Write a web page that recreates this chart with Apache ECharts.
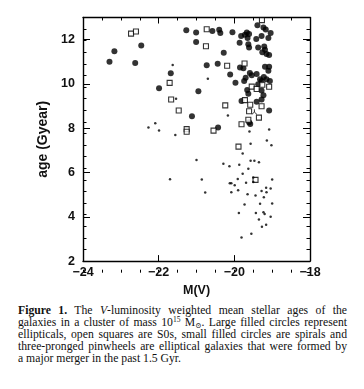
<!DOCTYPE html>
<html>
<head>
<meta charset="utf-8">
<script src="https://cdn.jsdelivr.net/npm/echarts@6/dist/echarts.min.js"></script>
<style>
  html, body { margin: 0; padding: 0; background: #fff; }
  #wrap { position: relative; width: 364px; height: 389px; overflow: hidden; }
  #chart { position: absolute; left: 0; top: 0; width: 364px; height: 302px; }
  #caption { position: absolute; left: 18px; top: 305px; width: 329px;
    font-family: "Liberation Serif", "DejaVu Serif", serif; font-size: 11.7px; line-height: 12px; color: #111; }
  #caption .l { text-align: justify; text-align-last: justify; white-space: nowrap; }
  #caption .last { text-align: left; text-align-last: left; }
  sup, sub { font-size: 7.5px; line-height: 0; vertical-align: baseline; position: relative; }
  sup { top: -0.55em; }
  sub { top: 0.3em; }
</style>
</head>
<body>
<div id="wrap">
  <div id="chart"></div>
  <div id="caption">
    <div class="l"><b>Figure 1.</b> The <i>V</i>-luminosity weighted mean stellar ages of the</div>
    <div class="l">galaxies in a cluster of mass 10<sup>15</sup> M<sub>&#8857;</sub>. Large filled circles represent</div>
    <div class="l">ellipticals, open squares are S0s, small filled circles are spirals and</div>
    <div class="l">three-pronged pinwheels are elliptical galaxies that were formed by</div>
    <div class="l last">a major merger in the past 1.5 Gyr.</div>
  </div>
</div>
<script>
// ---- data (M(V), age in Gyr) ----
const ellipticals = [
  [-23.30, 11.00], [-23.17, 11.48], [-22.46, 11.74], [-22.62, 10.95], [-21.99, 9.81],
  [-21.68, 10.48], [-21.12, 8.54], [-21.27, 12.42], [-21.01, 12.32], [-21.01, 11.89],
  [-20.95, 9.67], [-20.58, 12.39], [-20.40, 12.45], [-20.37, 12.30], [-20.43, 8.03],
  [-20.28, 11.41], [-20.44, 10.91], [-20.73, 10.84], [-20.05, 12.33], [-20.11, 10.43],
  [-19.97, 10.05], [-19.82, 12.17], [-19.72, 12.22], [-19.67, 12.32], [-19.61, 12.26],
  [-19.65, 12.07], [-19.86, 11.86], [-19.63, 11.79], [-19.61, 11.64], [-19.42, 12.03],
  [-19.39, 12.65], [-19.23, 12.55], [-19.17, 12.46], [-19.28, 12.17], [-19.10, 12.07],
  [-19.04, 12.30], [-19.37, 11.64], [-19.21, 11.69], [-19.19, 11.54], [-19.26, 11.43],
  [-19.15, 11.35], [-19.08, 11.31], [-19.85, 10.74], [-19.76, 10.71], [-19.70, 10.28],
  [-19.74, 10.13], [-19.59, 10.49], [-19.54, 10.39], [-19.41, 10.45], [-19.19, 10.78],
  [-19.08, 10.78], [-19.10, 10.59], [-19.32, 10.21], [-19.28, 10.13], [-19.22, 10.31],
  [-19.15, 10.21], [-19.06, 10.13], [-19.37, 9.99], [-19.66, 9.73], [-19.63, 9.56],
  [-19.28, 9.70], [-19.23, 9.49], [-19.28, 9.30], [-19.81, 9.23], [-19.41, 9.20],
  [-19.08, 8.80], [-19.61, 8.27], [-19.58, 8.19]
];
const s0s = [
  [-22.73, 12.27], [-22.60, 12.37], [-21.71, 10.05], [-21.67, 9.30], [-21.47, 8.80],
  [-21.26, 7.96], [-21.26, 7.84], [-20.73, 12.47], [-20.75, 11.70], [-20.55, 7.89],
  [-20.24, 9.03], [-20.19, 10.82], [-19.89, 7.17], [-19.81, 8.18], [-19.27, 12.88],
  [-19.73, 10.92], [-19.54, 9.88], [-19.41, 9.77], [-19.26, 9.96], [-19.08, 9.87],
  [-19.72, 9.27], [-19.58, 9.06], [-19.28, 8.99], [-19.61, 8.77], [-19.35, 8.48],
  [-19.63, 8.38], [-19.44, 5.67]
];
const spirals = [
  [-21.63, 10.85], [-20.70, 10.23], [-21.54, 9.33], [-20.17, 8.58], [-22.27, 8.03],
  [-22.09, 8.23], [-21.99, 7.90], [-21.56, 7.69], [-21.70, 5.70], [-21.00, 6.57],
  [-20.86, 5.68], [-20.77, 5.10], [-20.29, 6.40], [-20.13, 6.28], [-20.12, 5.52],
  [-20.08, 5.52], [-20.08, 5.11], [-19.99, 5.42], [-19.60, 7.85], [-19.08, 7.94],
  [-19.14, 7.45], [-19.02, 7.23], [-19.57, 7.30], [-19.78, 6.86], [-19.87, 6.35],
  [-19.57, 6.53], [-19.47, 6.53], [-19.35, 6.46], [-19.63, 6.17], [-19.78, 5.95],
  [-19.91, 5.71], [-19.69, 5.54], [-19.50, 5.78], [-19.50, 5.57], [-19.00, 5.68],
  [-19.90, 5.20], [-19.65, 5.02], [-19.44, 4.96], [-19.28, 5.16], [-19.15, 5.11],
  [-19.04, 5.28], [-19.16, 5.31], [-19.22, 4.88], [-19.73, 4.56], [-19.32, 4.59],
  [-19.00, 4.60], [-19.88, 4.17], [-19.43, 4.17], [-19.23, 4.21], [-19.20, 4.13],
  [-19.04, 4.00], [-19.35, 3.88], [-19.27, 3.55], [-19.16, 3.64], [-19.55, 3.24],
  [-19.81, 3.07]
];
const mergers = [[-19.47, 8.74]];
const xTickLabels = [-24, -22, -20, -18];
const yTickLabels = [2, 4, 6, 8, 10, 12];
const xName = 'M(V)';
const yName = 'age (Gyear)';

const chart = echarts.init(document.getElementById('chart'), null, { renderer: 'canvas' });
const black = '#000';
const gridBox = { left: 83, top: 17.5, width: 227, height: 255.2 };
const fmt = v => (v < 0 ? '\u2212' + Math.abs(v) : String(v));
const labelStyle = { color: '#111', fontFamily: 'Liberation Sans', fontWeight: 'bold', fontSize: 12.5 };

function xAx(grid, pos, major, labels) {
  return {
    type: 'value', gridIndex: grid, position: pos, min: -24, max: -18, interval: major ? 2 : 0.5,
    axisLine: { show: major, onZero: false, lineStyle: { color: black, width: 1.4 } },
    axisTick: { show: true, inside: true, length: major ? 6 : 3, lineStyle: { color: black, width: 1 } },
    splitLine: { show: false },
    axisLabel: labels ? Object.assign({ show: true, margin: 5,
      formatter: v => (xTickLabels.includes(v) ? fmt(v) : '') }, labelStyle) : { show: false },
    name: labels ? xName : '', nameLocation: 'middle', nameGap: 16,
    nameTextStyle: { color: '#111', fontFamily: 'Liberation Sans', fontWeight: 'bold', fontSize: 12.5 }
  };
}
function yAx(grid, pos, major, labels) {
  return {
    type: 'value', gridIndex: grid, position: pos, min: 2, max: 13, interval: major ? 2 : 0.5,
    axisLine: { show: major, onZero: false, lineStyle: { color: black, width: 1.4 } },
    axisTick: { show: true, inside: true, length: major ? 7 : 3.5, lineStyle: { color: black, width: 1 } },
    splitLine: { show: false },
    axisLabel: labels ? Object.assign({ show: true, margin: 8,
      formatter: v => (yTickLabels.includes(v) ? fmt(v) : '') }, labelStyle) : { show: false },
    name: labels ? yName : '', nameLocation: 'middle', nameGap: 26, nameRotate: 90,
    nameTextStyle: { color: '#111', fontFamily: 'Liberation Sans', fontWeight: 'bold', fontSize: 14 }
  };
}

chart.setOption({
  animation: false,
  backgroundColor: '#fff',
  grid: [Object.assign({}, gridBox), Object.assign({}, gridBox)],
  xAxis: [xAx(0, 'bottom', true, true), xAx(0, 'top', true, false),
          xAx(1, 'bottom', false, false), xAx(1, 'top', false, false)],
  yAxis: [yAx(0, 'left', true, true), yAx(0, 'right', true, false),
          yAx(1, 'left', false, false), yAx(1, 'right', false, false)],
  series: [
    { name: 'Ellipticals', type: 'scatter', xAxisIndex: 0, yAxisIndex: 0, data: ellipticals,
      symbol: 'circle', symbolSize: 6, itemStyle: { color: '#000' } },
    { name: 'S0s', type: 'scatter', xAxisIndex: 0, yAxisIndex: 0, data: s0s,
      symbol: 'rect', symbolSize: 5, itemStyle: { color: '#fff', borderColor: '#000', borderWidth: 1.1 } },
    { name: 'Spirals', type: 'scatter', xAxisIndex: 0, yAxisIndex: 0, data: spirals,
      symbol: 'circle', symbolSize: 2.5, itemStyle: { color: '#000' } },
    { name: 'Mergers', type: 'scatter', xAxisIndex: 0, yAxisIndex: 0, data: mergers,
      symbol: 'path://M5 0 L5 5 L0 9 M5 5 L10 9', symbolSize: 5,
      itemStyle: { color: 'none', borderColor: '#000', borderWidth: 1 } }
  ]
});
</script>
</body>
</html>
